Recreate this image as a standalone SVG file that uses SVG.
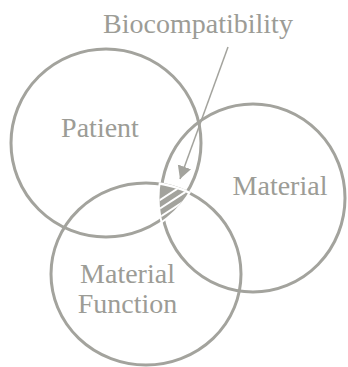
<svg xmlns="http://www.w3.org/2000/svg" width="348" height="367" viewBox="0 0 348 367">
<style>
.c{fill:none;stroke:#a3a39d;stroke-width:3}
.t{font-family:"Liberation Serif","Times New Roman",serif;font-size:28px;fill:#9c9c96;text-anchor:middle}
.a{stroke:#a3a39d;stroke-width:1.5;fill:none}
</style>
<defs>
<clipPath id="hp"><ellipse cx="106" cy="143" rx="98.5" ry="97.5"/></clipPath>
<clipPath id="hm"><ellipse cx="253" cy="198" rx="95.5" ry="97.5"/></clipPath>
<clipPath id="hf"><ellipse cx="146" cy="274" rx="96.5" ry="92.5"/></clipPath>
<clipPath id="gp"><ellipse cx="106" cy="143" rx="96.5" ry="95.5"/></clipPath>
<clipPath id="gm"><ellipse cx="253" cy="198" rx="93.5" ry="95.5"/></clipPath>
<clipPath id="gf"><ellipse cx="146" cy="274" rx="94" ry="90"/></clipPath>
<marker id="ah" markerUnits="userSpaceOnUse" markerWidth="14" markerHeight="15" refX="13" refY="7" orient="auto">
<path d="M0,0 L13,7 L0,14 z" fill="#a3a39d"/>
</marker>
</defs>
<rect width="348" height="367" fill="#ffffff"/>
<g id="patient">
<ellipse class="c" cx="106" cy="143" rx="95" ry="94"/>
<text class="t" x="100" y="137">Patient</text>
</g>
<g id="material">
<ellipse class="c" cx="253" cy="198" rx="92" ry="94"/>
<text class="t" x="280" y="195">Material</text>
</g>
<g id="material-function">
<ellipse class="c" cx="146" cy="274" rx="95" ry="91"/>
<text class="t" x="127.5" y="283">Material</text>
<text class="t" x="127.5" y="313">Function</text>
</g>
<g id="biocompatibility">
<g clip-path="url(#hp)"><g clip-path="url(#hm)"><g clip-path="url(#hf)">
<rect x="130" y="160" width="90" height="90" fill="#ffffff"/>
</g></g></g>
<g clip-path="url(#gp)"><g clip-path="url(#gm)"><g clip-path="url(#gf)">
<rect x="130" y="160" width="90" height="90" fill="#a3a39d"/>
<g stroke="#ffffff" stroke-width="2">
<line x1="130" y1="219.5" x2="220" y2="161"/>
<line x1="130" y1="228" x2="220" y2="169.5"/>
<line x1="130" y1="236.5" x2="220" y2="178"/>
<line x1="130" y1="245" x2="220" y2="186.5"/>
</g>
</g></g></g>
<text class="t" x="198" y="33">Biocompatibility</text>
</g>
<g id="connectors">
<line class="a" x1="228" y1="47" x2="180" y2="179" marker-end="url(#ah)"/>
</g>
</svg>
